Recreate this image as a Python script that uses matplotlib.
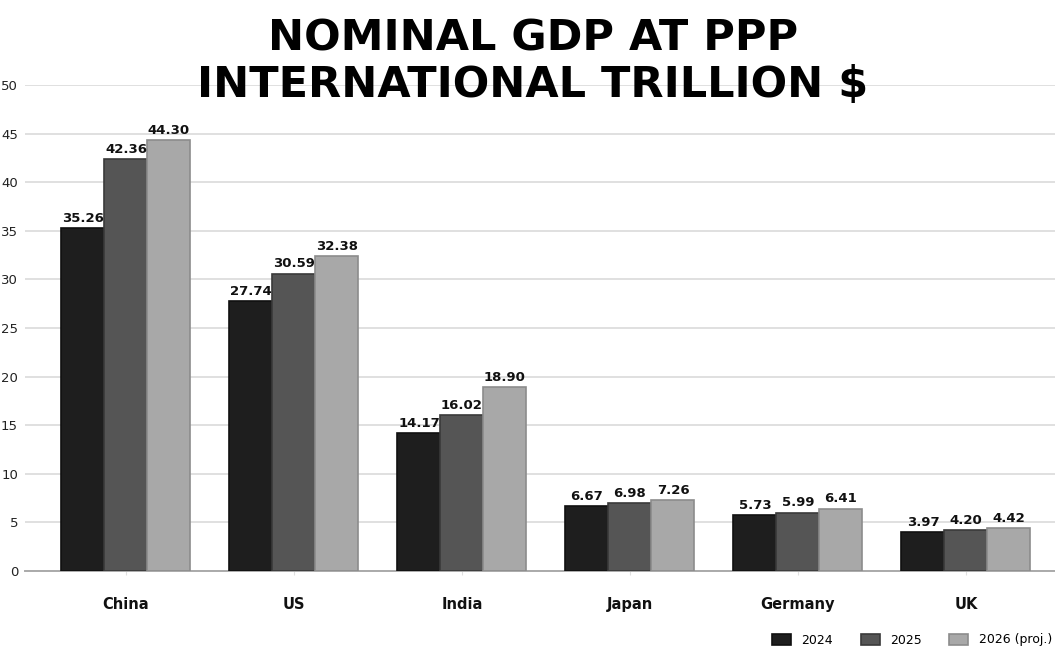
import matplotlib
matplotlib.use("Agg")
import matplotlib.pyplot as plt
import numpy as np

countries = ["China", "US", "India", "Japan", "Germany", "UK"]
series_names = ["2024", "2025", "2026 (proj.)"]
v2024 = [35.26, 27.74, 14.17, 6.67, 5.73, 3.97]
v2025 = [42.36, 30.59, 16.02, 6.98, 5.99, 4.20]
v2026 = [44.30, 32.38, 18.90, 7.26, 6.41, 4.42]
yticks = [0, 5, 10, 15, 20, 25, 30, 35, 40, 45, 50]

colors = ["#1e1e1e", "#555555", "#a8a8a8"]
edges = ["#101010", "#3a3a3a", "#8c8c8c"]

fig = plt.figure(figsize=(10.55, 6.51), dpi=100)
ax = fig.add_axes([25/1055, 80/651, 1 - 25/1055, (571-85)/651])

x = np.arange(len(countries))
w = 0.256
for i, (vals, name) in enumerate(zip([v2024, v2025, v2026], series_names)):
    bars = ax.bar(x + (i - 1) * w, vals, w, color=colors[i], edgecolor=edges[i],
                  linewidth=1.2, label=name, zorder=3)
    for b, v in zip(bars, vals):
        ax.annotate(f"{v:.2f}", (b.get_x() + b.get_width() / 2, v),
                    xytext=(0, 2.5), textcoords="offset points",
                    ha="center", va="bottom", fontsize=9.5, fontweight="bold",
                    color="#111111", zorder=4)

ax.set_xlim(-0.601, 5.530)
ax.set_ylim(0, 50)
ax.set_yticks(yticks)
ax.set_xticks(x)
ax.set_xticklabels(countries, fontsize=10.5, fontweight="bold", color="#111111")
ax.tick_params(axis="x", length=3, color="#e0e0e0", pad=16)
ax.tick_params(axis="y", length=0, pad=5, labelsize=9.5, labelcolor="#222222")
ax.grid(axis="y", color="#dadada", linewidth=1.2, zorder=0)
ax.set_axisbelow(True)
for s in ["top", "right", "left"]:
    ax.spines[s].set_visible(False)
ax.spines["bottom"].set_color("#aaaaaa")
ax.spines["bottom"].set_linewidth(1.4)
ax.spines["bottom"].set_zorder(2)

fig.text(0.505, 0.837, "NOMINAL GDP AT PPP\nINTERNATIONAL TRILLION $",
         ha="center", va="bottom", fontsize=31, fontweight="heavy",
         family=["DejaVu Sans"], linespacing=1.15, color="#000000")

fig.legend(loc="center right", bbox_to_anchor=(1052/1055, (651-640)/651),
           ncol=3, frameon=False, fontsize=9, handlelength=1.5, handleheight=1.0,
           handletextpad=0.85, columnspacing=2.2, borderaxespad=0, borderpad=0)

fig.savefig("out.png", dpi=100, facecolor="white")
